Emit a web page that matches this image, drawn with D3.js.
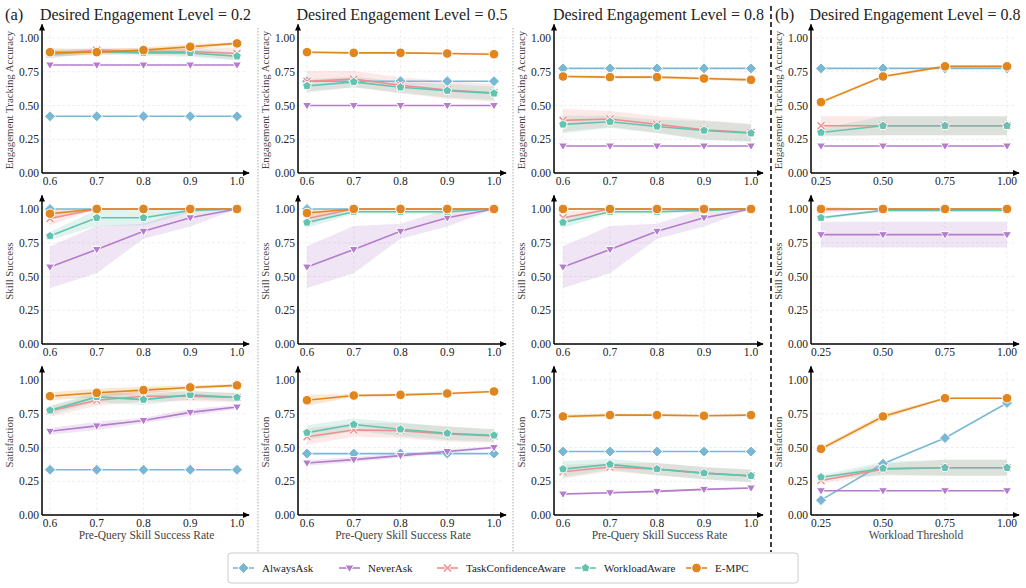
<!DOCTYPE html>
<html>
<head>
<meta charset="utf-8">
<script src="https://cdn.jsdelivr.net/npm/d3@7"></script>
<style>
  body { margin: 0; background: #fff; }
  svg { font-family: "Liberation Serif", "DejaVu Serif", serif; }
</style>
</head>
<body>
<svg id="chart" width="1026" height="588"></svg>
<script>
// ---- data ----
var series = [ "AlwaysAsk", "NeverAsk", "TaskConfidenceAware", "WorkloadAware", "E-MPC" ];
var colors = [ "#79b8d5", "#b47ccb", "#ef8f8d", "#62c4b0", "#e0861c" ];
var xPre  = [ 0.6, 0.7, 0.8, 0.9, 1.0 ];
var xWork = [ 0.25, 0.5, 0.75, 1.0 ];
var yTicks = [ 0, 0.25, 0.5, 0.75, 1.0 ];
var levels = [ "0.2", "0.5", "0.8", "0.8" ];
var rowLabels = [ "Engagement Tracking Accuracy", "Skill Success", "Satisfaction" ];

// engagement tracking accuracy (means, then band half-widths), series order as above
var acc02 = [ [0.42,0.42,0.42,0.42,0.42], [0.80,0.80,0.80,0.80,0.80], [0.88,0.91,0.90,0.90,0.885],
              [0.88,0.90,0.89,0.89,0.865], [0.895,0.895,0.91,0.935,0.96] ];
var acc02Err = [ [0,0,0,0,0], [0,0,0,0,0], [0.03,0.02,0.02,0.03,0.045], [0.02,0.02,0.02,0.03,0.03], [0.03,0.02,0.02,0.02,0.01] ];
var acc05 = [ [0.68,0.68,0.68,0.68,0.68], [0.50,0.50,0.50,0.50,0.50], [0.68,0.695,0.65,0.615,0.595],
              [0.645,0.675,0.635,0.61,0.59], [0.895,0.89,0.89,0.885,0.88] ];
var acc05Err = [ [0,0,0,0,0], [0,0,0,0,0], [0.075,0.06,0.06,0.065,0.065], [0.05,0.04,0.04,0.05,0.05], [0.008,0.008,0.008,0.008,0.01] ];
var acc08 = [ [0.775,0.775,0.775,0.775,0.775], [0.20,0.20,0.20,0.20,0.20], [0.39,0.40,0.36,0.32,0.30],
              [0.36,0.38,0.345,0.315,0.295], [0.715,0.71,0.71,0.70,0.69] ];
var acc08Err = [ [0,0,0,0,0], [0,0,0,0,0], [0.085,0.06,0.06,0.07,0.065], [0.065,0.045,0.05,0.07,0.065], [0.01,0.01,0.01,0.012,0.012] ];
var accWl = [ [0.775,0.775,0.775,0.775], [0.20,0.20,0.20,0.20], [0.35,0.35,0.35,0.35],
              [0.30,0.35,0.35,0.35], [0.525,0.715,0.79,0.79] ];
var accWlErr = [ [0,0,0,0], [0,0,0,0], [0.07,0.07,0.07,0.07], [0.03,0.07,0.07,0.07], [0.012,0.01,0.01,0.01] ];

// skill success
var sk02 = [ [1,1,1,1,1], [0.57,0.70,0.835,0.935,1.0], [0.93,1,1,1,1],
             [0.80,0.935,0.935,0.99,1.0], [0.965,1,1,1,1] ];
var sk02Err = [ [0,0,0,0,0], [0.155,0.175,0.055,0.065,0], [0.05,0,0,0,0], [0.03,0.06,0.055,0.015,0], [0.035,0,0,0,0] ];
var sk05 = [ [1,1,1,1,1], [0.57,0.70,0.835,0.935,1.0], [0.93,1,1,1,1],
             [0.90,0.98,0.98,0.98,1.0], [0.97,1,1,1,1] ];
var sk05Err = [ [0,0,0,0,0], [0.155,0.175,0.055,0.065,0], [0.05,0,0,0,0], [0.04,0.015,0.015,0.015,0], [0.03,0,0,0,0] ];
var sk08 = [ [1,1,1,1,1], [0.57,0.70,0.835,0.935,1.0], [0.935,1,1,1,1],
             [0.90,0.98,0.98,0.99,1.0], [1,1,1,1,1] ];
var sk08Err = [ [0,0,0,0,0], [0.155,0.175,0.055,0.065,0], [0.045,0,0,0,0], [0.04,0.015,0.015,0.01,0], [0,0,0,0,0] ];
var skWl = [ [1,1,1,1], [0.81,0.81,0.81,0.81], [0.995,1,1,1],
             [0.935,0.99,0.99,0.99], [1,1,1,1] ];
var skWlErr = [ [0,0,0,0], [0.095,0.095,0.095,0.095], [0.025,0,0,0], [0.01,0.01,0.01,0.01], [0,0,0,0] ];

// satisfaction
var sat02 = [ [0.335,0.335,0.335,0.335,0.335], [0.62,0.66,0.70,0.76,0.80], [0.77,0.85,0.88,0.88,0.87],
              [0.775,0.875,0.855,0.89,0.87], [0.88,0.905,0.925,0.945,0.96] ];
var sat02Err = [ [0,0,0,0,0], [0.025,0.03,0.02,0.025,0.015], [0.04,0.04,0.04,0.035,0.035], [0.03,0.04,0.04,0.03,0.03], [0.03,0.03,0.025,0.015,0.01] ];
var sat05 = [ [0.455,0.455,0.455,0.455,0.455], [0.385,0.41,0.44,0.47,0.50], [0.58,0.63,0.625,0.60,0.585],
              [0.61,0.67,0.635,0.605,0.59], [0.85,0.885,0.89,0.90,0.915] ];
var sat05Err = [ [0,0,0,0,0], [0.02,0.02,0.015,0.015,0.01], [0.06,0.05,0.055,0.055,0.05], [0.055,0.045,0.05,0.05,0.045], [0.04,0.01,0.01,0.01,0.01] ];
var sat08 = [ [0.47,0.47,0.47,0.47,0.47], [0.155,0.165,0.175,0.19,0.20], [0.32,0.355,0.34,0.31,0.29],
              [0.34,0.375,0.34,0.31,0.29], [0.73,0.74,0.74,0.735,0.74] ];
var sat08Err = [ [0,0,0,0,0], [0.008,0.008,0.008,0.008,0.008], [0.05,0.03,0.045,0.045,0.045], [0.06,0.04,0.045,0.045,0.045], [0.015,0.01,0.008,0.008,0.008] ];
var satWl = [ [0.11,0.38,0.57,0.83], [0.18,0.18,0.18,0.18], [0.255,0.34,0.35,0.35],
              [0.28,0.345,0.35,0.35], [0.49,0.73,0.865,0.865] ];
var satWlErr = [ [0,0,0,0], [0,0,0,0], [0.02,0.04,0.06,0.06], [0.015,0.05,0.06,0.06], [0.015,0.02,0.008,0.008] ];

var grid = [
  [ [acc02, acc02Err], [acc05, acc05Err], [acc08, acc08Err], [accWl, accWlErr] ],
  [ [sk02, sk02Err],   [sk05, sk05Err],   [sk08, sk08Err],   [skWl, skWlErr] ],
  [ [sat02, sat02Err], [sat05, sat05Err], [sat08, sat08Err], [satWl, satWlErr] ]
];

// ---- layout ----
var colAxis  = [ 42, 298, 554, 811 ];
var colFirst = [ 50, 307, 563, 821 ];
var colLast  = [ 237, 494, 751, 1007 ];
var rowBase  = [ 173, 344, 515 ];
var unitH = 135;

var svg = d3.select( "#chart" );

var defs = svg.append( "defs" );
defs.append( "marker" ).attr( "id", "arrow" )
    .attr( "viewBox", "0 0 10 10" ).attr( "refX", 8 ).attr( "refY", 5 )
    .attr( "markerWidth", 5 ).attr( "markerHeight", 5 ).attr( "orient", "auto" )
    .append( "path" ).attr( "d", "M0,1 L9,5 L0,9 Z" ).attr( "fill", "#000" );

function markerPath( i ) {
    if( i == 0 ) return "M0,-5.5 L5.5,0 L0,5.5 L-5.5,0 Z";
    if( i == 1 ) return "M-4.5,-3 L4.5,-3 L0,4.5 Z";
    if( i == 2 ) return "M-3.5,-3.5 L3.5,3.5 M-3.5,3.5 L3.5,-3.5";
    if( i == 3 ) {
        var p = d3.range(5).map( k => { var a = -Math.PI/2 + k*2*Math.PI/5;
                                         return [ 4.6*Math.cos(a), 4.6*Math.sin(a) ]; } );
        return "M" + p.join( "L" ) + "Z";
    }
    return "M4.8,0 A4.8,4.8 0 1,1 -4.8,0 A4.8,4.8 0 1,1 4.8,0 Z";
}

function drawMarker( g, i, x, y ) {
    if( i == 2 ) {
        g.append( "path" ).attr( "d", markerPath(i) ).attr( "transform", "translate(" + x + "," + y + ")" )
            .attr( "stroke", "#fff" ).attr( "stroke-width", 3 ).attr( "fill", "none" );
        g.append( "path" ).attr( "d", markerPath(i) ).attr( "transform", "translate(" + x + "," + y + ")" )
            .attr( "stroke", colors[i] ).attr( "stroke-width", 1.5 ).attr( "fill", "none" );
    } else {
        g.append( "path" ).attr( "d", markerPath(i) ).attr( "transform", "translate(" + x + "," + y + ")" )
            .attr( "fill", colors[i] ).attr( "stroke", "#fff" ).attr( "stroke-width", 1 );
    }
}

for( var r = 0; r < 3; r++ ) {
    for( var c = 0; c < 4; c++ ) {
        var xs = c == 3 ? xWork : xPre;
        var sx = d3.scaleLinear().domain( [ xs[0], xs[xs.length-1] ] ).range( [ colFirst[c], colLast[c] ] );
        var sy = d3.scaleLinear().domain( [ 0, 1 ] ).range( [ rowBase[r], rowBase[r] - unitH ] );
        var g = svg.append( "g" );
        var right = colLast[c] + 12;

        // grid
        g.selectAll( "line.gy" ).data( yTicks ).enter().append( "line" ).attr( "class", "gy" )
            .attr( "x1", colAxis[c] ).attr( "x2", right - 4 )
            .attr( "y1", d=>sy(d) ).attr( "y2", d=>sy(d) )
            .attr( "stroke", "#ebebeb" ).attr( "stroke-width", 0.8 ).attr( "stroke-dasharray", "3,2" );
        g.selectAll( "line.gx" ).data( xs ).enter().append( "line" ).attr( "class", "gx" )
            .attr( "x1", d=>sx(d) ).attr( "x2", d=>sx(d) )
            .attr( "y1", rowBase[r] ).attr( "y2", sy(1.06) )
            .attr( "stroke", "#ebebeb" ).attr( "stroke-width", 0.8 ).attr( "stroke-dasharray", "3,2" );

        var means = grid[r][c][0], errs = grid[r][c][1];

        // bands
        for( var s = 0; s < 5; s++ ) {
            var pts = xs.map( (x,k) => ( { x: x, lo: means[s][k] - errs[s][k], hi: means[s][k] + errs[s][k] } ) );
            g.append( "path" ).datum( pts )
                .attr( "d", d3.area().x( d=>sx(d.x) ).y0( d=>sy(d.lo) ).y1( d=>sy(d.hi) ) )
                .attr( "fill", colors[s] ).attr( "fill-opacity", 0.2 ).attr( "stroke", "none" );
        }
        // lines + markers
        for( var s = 0; s < 5; s++ ) {
            var pts = xs.map( (x,k) => [ sx(x), sy(means[s][k]) ] );
            g.append( "path" ).attr( "d", d3.line()( pts ) )
                .attr( "fill", "none" ).attr( "stroke", colors[s] ).attr( "stroke-width", 1.6 );
            pts.forEach( p => drawMarker( g, s, p[0], p[1] ) );
        }

        // axes
        g.append( "line" ).attr( "x1", colAxis[c] ).attr( "x2", colAxis[c] )
            .attr( "y1", rowBase[r] ).attr( "y2", sy(1.1) )
            .attr( "stroke", "#000" ).attr( "stroke-width", 1.5 ).attr( "marker-end", "url(#arrow)" );
        g.append( "line" ).attr( "x1", colAxis[c] ).attr( "x2", right )
            .attr( "y1", rowBase[r] ).attr( "y2", rowBase[r] )
            .attr( "stroke", "#000" ).attr( "stroke-width", 1.5 ).attr( "marker-end", "url(#arrow)" );

        g.selectAll( "text.yt" ).data( yTicks ).enter().append( "text" ).attr( "class", "yt" )
            .attr( "x", colAxis[c] - 3 ).attr( "y", d=>sy(d) + 4 )
            .attr( "text-anchor", "end" ).attr( "font-size", 11.5 ).attr( "fill", "#222" )
            .text( d=>d.toFixed(2) );
        g.selectAll( "text.xt" ).data( xs ).enter().append( "text" ).attr( "class", "xt" )
            .attr( "x", d=>sx(d) ).attr( "y", rowBase[r] + 12 )
            .attr( "text-anchor", "middle" ).attr( "font-size", 11.5 ).attr( "fill", "#222" )
            .text( d=> c == 3 ? d.toFixed(2) : d.toFixed(1) );

        var ly = rowBase[r] - unitH * 0.54;
        var lx = colAxis[c] - 29;
        g.append( "text" ).attr( "transform", "translate(" + lx + "," + ly + ") rotate(-90)" )
            .attr( "text-anchor", "middle" ).attr( "font-size", 10.8 ).attr( "fill", "#444" )
            .text( rowLabels[r] );

        if( r == 2 ) {
            g.append( "text" ).attr( "x", (colAxis[c] + right) / 2 + 1 ).attr( "y", rowBase[r] + 24 )
                .attr( "text-anchor", "middle" ).attr( "font-size", 11.5 ).attr( "fill", "#444" )
                .text( c == 3 ? "Workload Threshold" : "Pre-Query Skill Success Rate" );
        }
        if( r == 0 ) {
            svg.append( "text" ).attr( "x", (colAxis[c] + right) / 2 ).attr( "y", 20 )
                .attr( "text-anchor", "middle" ).attr( "font-size", 16 ).attr( "fill", "#222" )
                .text( "Desired Engagement Level = " + levels[c] );
        }
    }
}

svg.append( "text" ).attr( "x", 5 ).attr( "y", 20 ).attr( "font-size", 16.5 ).attr( "fill", "#222" ).text( "(a)" );
svg.append( "text" ).attr( "x", 775 ).attr( "y", 20 ).attr( "font-size", 16.5 ).attr( "fill", "#222" ).text( "(b)" );

// separators
[ 258, 513 ].forEach( x => svg.append( "line" ).attr( "x1", x ).attr( "x2", x ).attr( "y1", 28 ).attr( "y2", 552 )
    .attr( "stroke", "#aaa" ).attr( "stroke-width", 1 ).attr( "stroke-dasharray", "1.5,1.5" ) );
svg.append( "line" ).attr( "x1", 771 ).attr( "x2", 771 ).attr( "y1", 6 ).attr( "y2", 552 )
    .attr( "stroke", "#000" ).attr( "stroke-width", 1.5 ).attr( "stroke-dasharray", "5,3" );

// legend
var lg = svg.append( "g" );
lg.append( "rect" ).attr( "x", 228 ).attr( "y", 553 ).attr( "width", 570 ).attr( "height", 30 )
    .attr( "rx", 3 ).attr( "fill", "#fff" ).attr( "stroke", "#ccc" ).attr( "stroke-width", 1 );
var legX = [ 233, 339, 437, 575, 686 ];
series.forEach( (name, i) => {
    var x0 = legX[i], yy = 568;
    lg.append( "line" ).attr( "x1", x0 ).attr( "x2", x0 + 21 ).attr( "y1", yy ).attr( "y2", yy )
        .attr( "stroke", colors[i] ).attr( "stroke-width", 1.6 );
    drawMarker( lg, i, x0 + 10.5, yy );
    lg.append( "text" ).attr( "x", x0 + 29 ).attr( "y", yy + 4 ).attr( "font-size", 11 ).attr( "fill", "#222" )
        .text( name );
} );
</script>
</body>
</html>
